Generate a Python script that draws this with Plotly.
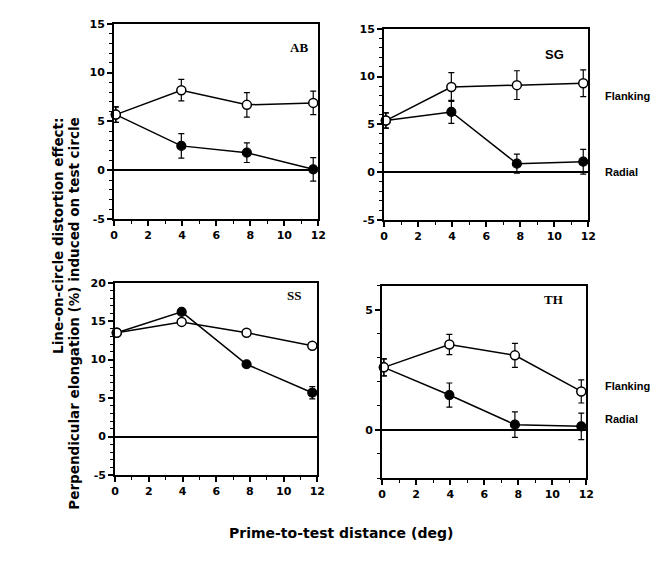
import plotly.graph_objects as go

# ---------------- data ----------------
distance = [0.1, 3.95, 7.8, 11.7]

ab_flanking = [5.7, 8.2, 6.7, 6.9]
ab_flanking_err = [0.8, 1.1, 1.25, 1.2]
ab_radial = [5.7, 2.5, 1.8, 0.1]
ab_radial_err = [0.8, 1.25, 1.0, 1.2]

sg_flanking = [5.4, 8.9, 9.1, 9.3]
sg_flanking_err = [0.8, 1.5, 1.5, 1.4]
sg_radial = [5.4, 6.3, 0.9, 1.1]
sg_radial_err = [0.8, 1.2, 1.0, 1.3]

ss_flanking = [13.5, 14.9, 13.5, 11.8]
ss_flanking_err = [0.3, 0.3, 0.3, 0.3]
ss_radial = [13.5, 16.2, 9.4, 5.7]
ss_radial_err = [0.3, 0.3, 0.3, 0.8]

th_flanking = [2.6, 3.55, 3.1, 1.6]
th_flanking_err = [0.35, 0.42, 0.5, 0.48]
th_radial = [2.6, 1.45, 0.22, 0.15]
th_radial_err = [0.35, 0.5, 0.53, 0.55]

x_ticks = [0, 2, 4, 6, 8, 10, 12]
panel_names = ["AB", "SG", "SS", "TH"]
y_ticks_top = [-5, 0, 5, 10, 15]
y_ticks_ss = [-5, 0, 5, 10, 15, 20]
y_ticks_th = [0, 5]

# ---------------- layout helpers ----------------
W, H = 661, 563


def px_x(p):
    return p / W


def px_y(p):
    return 1 - p / H


def plain_labels(vals):
    return [str(v) for v in vals]


boxes = {  # left, top, right, bottom in pixels
    "AB": (104, 10, 312, 210),
    "SG": (379, 15, 587, 211),
    "SS": (105, 275, 311, 472),
    "TH": (377, 278, 585, 475),
}
yranges = {"AB": [-5, 15], "SG": [-5, 15], "SS": [-5, 20], "TH": [-2, 6]}
ytickvals = {"AB": y_ticks_top, "SG": y_ticks_top, "SS": y_ticks_ss, "TH": y_ticks_th}
series = {
    "AB": (ab_flanking, ab_flanking_err, ab_radial, ab_radial_err),
    "SG": (sg_flanking, sg_flanking_err, sg_radial, sg_radial_err),
    "SS": (ss_flanking, ss_flanking_err, ss_radial, ss_radial_err),
    "TH": (th_flanking, th_flanking_err, th_radial, th_radial_err),
}

fig = go.Figure()
tick_font = dict(family="DejaVu Sans, Liberation Sans, sans-serif", size=11, color="black", weight=700)

for i, name in enumerate(panel_names):
    ax = "" if i == 0 else str(i + 1)
    xa, ya = "x" + ax, "y" + ax
    fl, fle, ra, rae = series[name]
    # radial (filled)
    fig.add_trace(go.Scatter(
        x=distance, y=ra, xaxis=xa, yaxis=ya, mode="lines+markers",
        line=dict(color="black", width=1.5),
        marker=dict(symbol="circle", size=9, color="black", line=dict(color="black", width=1.2)),
        error_y=dict(type="data", array=rae, color="black", thickness=1.2, width=3),
        showlegend=False, cliponaxis=False,
    ))
    # flanking (open)
    fig.add_trace(go.Scatter(
        x=distance, y=fl, xaxis=xa, yaxis=ya, mode="lines+markers",
        line=dict(color="black", width=1.5),
        marker=dict(symbol="circle", size=9, color="white", line=dict(color="black", width=1.5)),
        error_y=dict(type="data", array=fle, color="black", thickness=1.2, width=3),
        showlegend=False, cliponaxis=False,
    ))
    l, t, r, b = boxes[name]
    xkey = "xaxis" if i == 0 else f"xaxis{i+1}"
    ykey = "yaxis" if i == 0 else f"yaxis{i+1}"
    fig.layout[xkey] = dict(
        domain=[px_x(l), px_x(r)], range=[0, 12], anchor=ya,
        tickvals=x_ticks, ticktext=plain_labels(x_ticks),
        ticks="outside", ticklen=5, tickwidth=1.5, tickcolor="black",
        showline=True, linecolor="black", linewidth=2, mirror=True,
        showgrid=False, zeroline=False, tickfont=tick_font,
        minor=dict(dtick=1, ticks="outside", ticklen=3, tickwidth=1.2, tickcolor="black", showgrid=False),
    )
    fig.layout[ykey] = dict(
        domain=[px_y(b), px_y(t)], range=yranges[name], anchor=xa,
        tickvals=ytickvals[name], ticktext=plain_labels(ytickvals[name]),
        ticks="outside", ticklen=5, tickwidth=1.5, tickcolor="black",
        showline=True, linecolor="black", linewidth=2, mirror=True,
        showgrid=False, zeroline=True, zerolinecolor="black", zerolinewidth=2,
        tickfont=tick_font,
        minor=dict(dtick=1, ticks="outside", ticklen=3, tickwidth=1.2, tickcolor="black", showgrid=False),
    )

annotations = []
label_pos = {"AB": (292, 25), "SG": (564, 32), "SS": (287, 288), "TH": (563, 292)}
for name in panel_names:
    px, py = label_pos[name]
    fam = "Liberation Sans, Arial, sans-serif" if name == "SG" else "Liberation Serif, Times New Roman, serif"
    annotations.append(dict(
        x=px_x(px), y=px_y(py), xref="paper", yref="paper", text="<b>%s</b>" % name, showarrow=False,
        font=dict(family=fam, size=13, color="black"),
    ))

legend_font = dict(family="Liberation Sans Narrow, Liberation Sans, Arial, sans-serif", size=11, color="black")
for txt, (px, py) in [("Flanking", (602, 76)), ("Radial", (602, 154)),
                      ("Flanking", (602, 389)), ("Radial", (602, 423))]:
    annotations.append(dict(
        x=px_x(px), y=px_y(py), xref="paper", yref="paper", text="<b>%s</b>" % txt, showarrow=False,
        xanchor="left", font=legend_font,
    ))

title_font = dict(family="DejaVu Sans, Liberation Sans, sans-serif", size=13.5, color="black")
annotations.append(dict(
    x=px_x(36), y=px_y(104), xref="paper", yref="paper", yanchor="top",
    text="<b>Line-on-circle distortion effect:</b>", textangle=-90, showarrow=False, font=title_font,
))
annotations.append(dict(
    x=px_x(53), y=px_y(104), xref="paper", yref="paper", yanchor="top",
    text="<b>Perpendicular elongation (%) induced on test circle</b>", textangle=-90, showarrow=False,
    font=title_font,
))
annotations.append(dict(
    x=px_x(335), y=px_y(541), xref="paper", yref="paper",
    text="<b>Prime-to-test distance (deg)</b>", showarrow=False,
    font=dict(family="DejaVu Sans, Liberation Sans, sans-serif", size=14, color="black"),
))

fig.update_layout(
    width=W, height=H, margin=dict(l=0, r=0, t=0, b=0),
    paper_bgcolor="white", plot_bgcolor="white",
    annotations=annotations,
)

fig.write_html("out.html")
